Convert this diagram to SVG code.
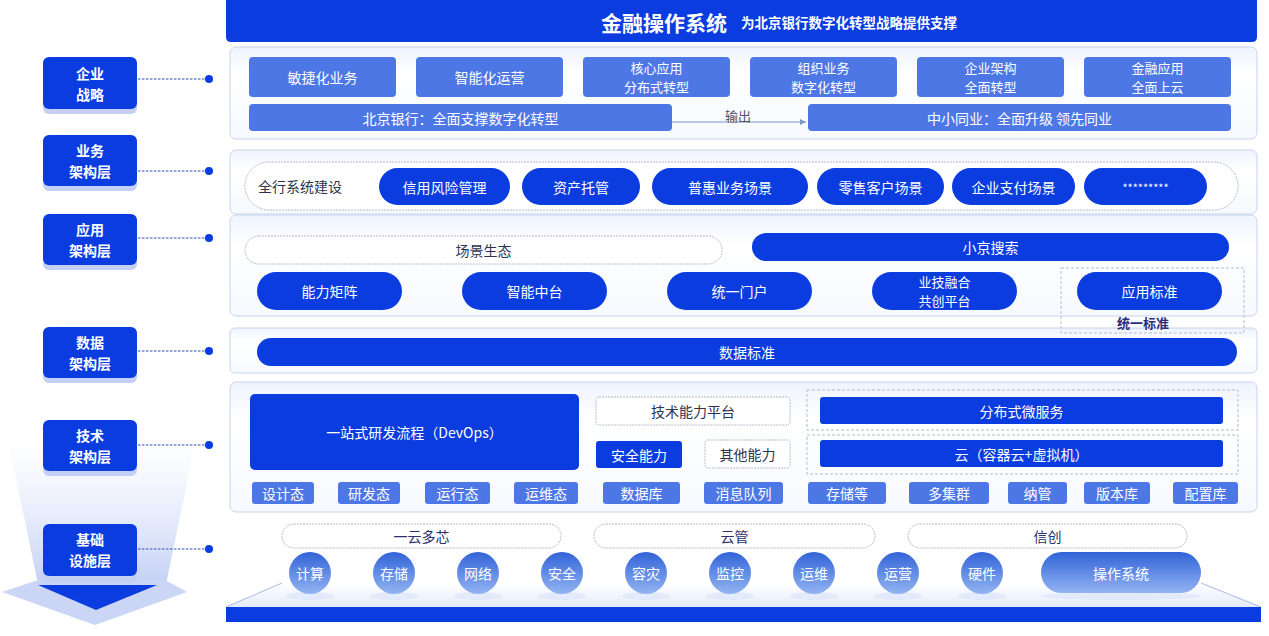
<svg xmlns="http://www.w3.org/2000/svg" width="1269" height="636" viewBox="0 0 1269 636">
<defs>
<style>
text{font-family:'Noto Sans CJK SC','Noto Sans',sans-serif;text-anchor:middle;dominant-baseline:central}
.w{fill:#fff;font-size:14px}
.w2{fill:#fff;font-size:13px}
.d{fill:#2e3350;font-size:14px}
.n{fill:#2b2f6e;font-size:14px}
.side{fill:#fff;font-size:14px;font-weight:700}
.db{fill:#0a3ce0}
.mb{fill:#4e77e6}
.panel{fill:url(#pg);stroke:#c7d5ec;stroke-width:1}
.ol{fill:#fff;stroke:#b3bccb;stroke-width:1;stroke-dasharray:2 1}
.dash{fill:none;stroke:#b5bcc8;stroke-width:1;stroke-dasharray:3 2}
.conn{stroke:#2c4fb5;stroke-width:1.2;stroke-dasharray:2.5 1.5;fill:none}
.dot{fill:#0a3ce0}
.sh{fill:#c3cff3}
.circ{fill:url(#cg)}
.glow{fill:#dbe5fa;opacity:.7}
</style>
<linearGradient id="pg" x1="0" y1="0" x2="0" y2="1">
<stop offset="0" stop-color="#eef3fd"/>
<stop offset="0.3" stop-color="#ffffff"/>
<stop offset="1" stop-color="#f6f9fe"/>
</linearGradient>
<linearGradient id="cg" x1="0" y1="0" x2="0" y2="1">
<stop offset="0" stop-color="#3163d8"/>
<stop offset="1" stop-color="#93b4f2"/>
</linearGradient>
<linearGradient id="fade" x1="0" y1="0" x2="0" y2="1">
<stop offset="0" stop-color="#dfe6fa" stop-opacity="0"/>
<stop offset="1" stop-color="#c4d1f5"/>
</linearGradient>
<linearGradient id="plat" x1="0" y1="0" x2="0" y2="1">
<stop offset="0" stop-color="#ffffff"/>
<stop offset="1" stop-color="#e3ebfb"/>
</linearGradient>
<marker id="arr" markerWidth="8" markerHeight="8" refX="6" refY="3" orient="auto" markerUnits="userSpaceOnUse">
<path d="M0,0 L6,3 L0,6 Z" fill="#7d98c6"/>
</marker>
</defs>

<rect width="1269" height="636" fill="#fff"/>

<g id="left-deco">
<polygon points="8,440 196,440 166,584 38,584" fill="url(#fade)"/>
<polygon points="38,580 2,592 95,625 187,592 165,580" fill="#cbd6f6"/>
<polygon points="38,585 157,585 96,610" fill="#0a3ce0"/>
</g>

<g id="side-qiye">
<rect class="sh" x="43" y="61" width="94" height="53" rx="6"/>
<rect class="db" x="43" y="57" width="94" height="52" rx="6"/>
<text class="side" x="90" y="73">企业</text>
<text class="side" x="90" y="94">战略</text>
</g>
<g id="side-yewu">
<rect class="sh" x="43" y="139" width="94" height="52" rx="6"/>
<rect class="db" x="43" y="135" width="94" height="51" rx="6"/>
<text class="side" x="90" y="150">业务</text>
<text class="side" x="90" y="171">架构层</text>
</g>
<g id="side-yingyong">
<rect class="sh" x="43" y="218" width="94" height="52" rx="6"/>
<rect class="db" x="43" y="214" width="94" height="51" rx="6"/>
<text class="side" x="90" y="229">应用</text>
<text class="side" x="90" y="250">架构层</text>
</g>
<g id="side-shuju">
<rect class="sh" x="43" y="331" width="94" height="52" rx="6"/>
<rect class="db" x="43" y="327" width="94" height="51" rx="6"/>
<text class="side" x="90" y="342">数据</text>
<text class="side" x="90" y="363">架构层</text>
</g>
<g id="side-jishu">
<rect class="sh" x="43" y="424" width="94" height="52" rx="6"/>
<rect class="db" x="43" y="420" width="94" height="51" rx="6"/>
<text class="side" x="90" y="435">技术</text>
<text class="side" x="90" y="456">架构层</text>
</g>
<g id="side-jichu">
<rect class="sh" x="43" y="528" width="94" height="55" rx="6"/>
<rect class="db" x="43" y="524" width="94" height="52" rx="6"/>
<text class="side" x="90" y="539">基础</text>
<text class="side" x="90" y="560">设施层</text>
</g>

<g id="header">
<path d="M226,0 H1257 V37 Q1257,42 1252,42 H231 Q226,42 226,37 Z" fill="#0a3ce0"/>
<text x="601" y="22" style="text-anchor:start;fill:#fff;font-size:21px;font-weight:700">金融操作系统</text>
<text x="741" y="22" style="text-anchor:start;fill:#fff;font-size:13.5px;font-weight:700">为北京银行数字化转型战略提供支撑</text>
</g>

<g id="layer-strategy">
<rect class="panel" x="230" y="47" width="1027" height="92" rx="6"/>
<g id="s1"><rect class="mb" x="249" y="57" width="147" height="40" rx="4"/><text class="w" x="322.5" y="77">敏捷化业务</text></g>
<g id="s2"><rect class="mb" x="416" y="57" width="147" height="40" rx="4"/><text class="w" x="489.5" y="77">智能化运营</text></g>
<g id="s3"><rect class="mb" x="583" y="57" width="147" height="40" rx="4"/><text class="w2" x="656.5" y="67.5">核心应用</text><text class="w2" x="656.5" y="86.5">分布式转型</text></g>
<g id="s4"><rect class="mb" x="750" y="57" width="147" height="40" rx="4"/><text class="w2" x="823.5" y="67.5">组织业务</text><text class="w2" x="823.5" y="86.5">数字化转型</text></g>
<g id="s5"><rect class="mb" x="917" y="57" width="147" height="40" rx="4"/><text class="w2" x="990.5" y="67.5">企业架构</text><text class="w2" x="990.5" y="86.5">全面转型</text></g>
<g id="s6"><rect class="mb" x="1084" y="57" width="147" height="40" rx="4"/><text class="w2" x="1157.5" y="67.5">金融应用</text><text class="w2" x="1157.5" y="86.5">全面上云</text></g>
<g id="bob"><rect class="mb" x="249" y="104" width="423" height="27" rx="4"/><text class="w" x="460.5" y="117.5">北京银行：全面支撑数字化转型</text></g>
<g id="peers"><rect class="mb" x="808" y="104" width="423" height="27" rx="4"/><text class="w" x="1019.5" y="117.5">中小同业：全面升级 领先同业</text></g>
</g>

<g id="layer-business">
<rect class="panel" x="230" y="150" width="1027" height="64" rx="6"/>
<rect class="ol" x="245" y="162" width="993" height="48" rx="24"/>
<text class="d" x="300" y="186">全行系统建设</text>
<g id="b1"><rect class="db" x="379" y="168" width="131" height="37" rx="18.5"/><text class="w" x="444.5" y="186.5">信用风险管理</text></g>
<g id="b2"><rect class="db" x="522" y="168" width="118" height="37" rx="18.5"/><text class="w" x="581" y="186.5">资产托管</text></g>
<g id="b3"><rect class="db" x="652" y="168" width="156" height="37" rx="18.5"/><text class="w" x="730" y="186.5">普惠业务场景</text></g>
<g id="b4"><rect class="db" x="817" y="168" width="127" height="37" rx="18.5"/><text class="w" x="880.5" y="186.5">零售客户场景</text></g>
<g id="b5"><rect class="db" x="952" y="168" width="123" height="37" rx="18.5"/><text class="w" x="1013.5" y="186.5">企业支付场景</text></g>
<g id="b6"><rect class="db" x="1084" y="168" width="123" height="37" rx="18.5"/><text class="w" x="1145.5" y="187" style="font-size:11px">*********</text></g>
</g>

<g id="layer-app">
<rect class="panel" x="230" y="215" width="1027" height="101" rx="6"/>
<g id="a-scene"><rect class="ol" x="245" y="236" width="477" height="28" rx="14"/><text class="d" x="483.5" y="250">场景生态</text></g>
<g id="a-search"><rect class="db" x="752" y="233" width="477" height="28" rx="14"/><text class="w" x="990.5" y="247">小京搜索</text></g>
<g id="a1"><rect class="db" x="257" y="272" width="145" height="38" rx="19"/><text class="w" x="329.5" y="291">能力矩阵</text></g>
<g id="a2"><rect class="db" x="462" y="272" width="145" height="38" rx="19"/><text class="w" x="534.5" y="291">智能中台</text></g>
<g id="a3"><rect class="db" x="667" y="272" width="145" height="38" rx="19"/><text class="w" x="739.5" y="291">统一门户</text></g>
<g id="a4"><rect class="db" x="872" y="272" width="145" height="38" rx="19"/><text class="w2" x="944.5" y="281.5">业技融合</text><text class="w2" x="944.5" y="300.5">共创平台</text></g>
<g id="a5"><rect class="db" x="1077" y="272" width="145" height="38" rx="19"/><text class="w" x="1149.5" y="291">应用标准</text></g>
</g>

<g id="layer-data">
<rect class="panel" x="230" y="328" width="1027" height="45" rx="5"/>
<g id="d1"><rect class="db" x="257" y="338" width="980" height="28" rx="14"/><text class="w" x="747" y="352">数据标准</text></g>
</g>

<g id="unified-std">
<rect class="dash" x="1061" y="268" width="183" height="65"/>
<text x="1143" y="322" style="fill:#2b2f7a;font-size:13px;font-weight:700">统一标准</text>
</g>

<g id="layer-tech">
<rect class="panel" x="230" y="382" width="1027" height="130" rx="6"/>
<g id="devops"><rect class="db" x="250" y="394" width="329" height="76" rx="5"/><text class="w" x="414.5" y="432">一站式研发流程（DevOps）</text></g>
<g id="t-platform"><rect class="ol" x="596" y="397" width="194" height="28" rx="3"/><text class="d" x="693" y="411">技术能力平台</text></g>
<g id="t-sec"><rect class="db" x="596" y="441" width="86" height="27" rx="3"/><text class="w" x="639" y="454.5">安全能力</text></g>
<g id="t-other"><rect class="ol" x="705" y="440" width="85" height="28" rx="3"/><text class="d" x="747.5" y="454">其他能力</text></g>
<g id="t-micro"><rect class="dash" x="807" y="390" width="431" height="40"/><rect class="db" x="820" y="397" width="403" height="27" rx="3"/><text class="w" x="1021.5" y="410.5">分布式微服务</text></g>
<g id="t-cloud"><rect class="dash" x="807" y="435" width="431" height="39"/><rect class="db" x="820" y="440" width="403" height="27" rx="3"/><text class="w" x="1021.5" y="453.5">云（容器云+虚拟机）</text></g>
<g id="t1"><rect class="mb" x="252" y="482" width="62" height="22" rx="3"/><text class="w" x="283" y="493">设计态</text></g>
<g id="t2"><rect class="mb" x="338" y="482" width="62" height="22" rx="3"/><text class="w" x="369" y="493">研发态</text></g>
<g id="t3"><rect class="mb" x="425" y="482" width="65" height="22" rx="3"/><text class="w" x="457.5" y="493">运行态</text></g>
<g id="t4"><rect class="mb" x="514" y="482" width="64" height="22" rx="3"/><text class="w" x="546" y="493">运维态</text></g>
<g id="t5"><rect class="mb" x="603" y="482" width="77" height="22" rx="3"/><text class="w" x="641.5" y="493">数据库</text></g>
<g id="t6"><rect class="mb" x="704" y="482" width="79" height="22" rx="3"/><text class="w" x="743.5" y="493">消息队列</text></g>
<g id="t7"><rect class="mb" x="808" y="482" width="78" height="22" rx="3"/><text class="w" x="847" y="493">存储等</text></g>
<g id="t8"><rect class="mb" x="909" y="482" width="80" height="22" rx="3"/><text class="w" x="949" y="493">多集群</text></g>
<g id="t9"><rect class="mb" x="1008" y="482" width="59" height="22" rx="3"/><text class="w" x="1037.5" y="493">纳管</text></g>
<g id="t10"><rect class="mb" x="1084" y="482" width="66" height="22" rx="3"/><text class="w" x="1117" y="493">版本库</text></g>
<g id="t11"><rect class="mb" x="1173" y="482" width="65" height="22" rx="3"/><text class="w" x="1205.5" y="493">配置库</text></g>
</g>

<g id="layer-infra">
<polygon points="226,607 282,583 1201,583 1261,607" fill="url(#plat)"/>
<line x1="226" y1="607" x2="282" y2="583" stroke="#a9b9e4" stroke-width="1"/>
<line x1="1201" y1="583" x2="1261" y2="607" stroke="#a9b9e4" stroke-width="1"/>
<rect x="226" y="607" width="1035" height="15" fill="#0a3ce0"/>
<g id="i-pill1"><rect class="ol" x="282" y="524" width="279" height="24" rx="12"/><text class="n" x="421.5" y="536">一云多芯</text></g>
<g id="i-pill2"><rect class="ol" x="594" y="524" width="281" height="24" rx="12"/><text class="n" x="734.5" y="536">云管</text></g>
<g id="i-pill3"><rect class="ol" x="908" y="524" width="279" height="24" rx="12"/><text class="n" x="1047.5" y="536">信创</text></g>
<g id="c1"><ellipse class="glow" cx="310" cy="596" rx="24" ry="4"/><circle class="circ" cx="310" cy="573" r="21"/><text class="w" x="310" y="573">计算</text></g>
<g id="c2"><ellipse class="glow" cx="394" cy="596" rx="24" ry="4"/><circle class="circ" cx="394" cy="573" r="21"/><text class="w" x="394" y="573">存储</text></g>
<g id="c3"><ellipse class="glow" cx="478" cy="596" rx="24" ry="4"/><circle class="circ" cx="478" cy="573" r="21"/><text class="w" x="478" y="573">网络</text></g>
<g id="c4"><ellipse class="glow" cx="562" cy="596" rx="24" ry="4"/><circle class="circ" cx="562" cy="573" r="21"/><text class="w" x="562" y="573">安全</text></g>
<g id="c5"><ellipse class="glow" cx="646" cy="596" rx="24" ry="4"/><circle class="circ" cx="646" cy="573" r="21"/><text class="w" x="646" y="573">容灾</text></g>
<g id="c6"><ellipse class="glow" cx="730" cy="596" rx="24" ry="4"/><circle class="circ" cx="730" cy="573" r="21"/><text class="w" x="730" y="573">监控</text></g>
<g id="c7"><ellipse class="glow" cx="814" cy="596" rx="24" ry="4"/><circle class="circ" cx="814" cy="573" r="21"/><text class="w" x="814" y="573">运维</text></g>
<g id="c8"><ellipse class="glow" cx="898" cy="596" rx="24" ry="4"/><circle class="circ" cx="898" cy="573" r="21"/><text class="w" x="898" y="573">运营</text></g>
<g id="c9"><ellipse class="glow" cx="982" cy="596" rx="24" ry="4"/><circle class="circ" cx="982" cy="573" r="21"/><text class="w" x="982" y="573">硬件</text></g>
<g id="c10"><ellipse class="glow" cx="1121" cy="596" rx="80" ry="4"/><rect class="circ" x="1041" y="552" width="160" height="41" rx="20.5"/><text class="w" x="1121" y="572.5">操作系统</text></g>
</g>

<g id="connectors">
<line class="conn" x1="138" y1="79" x2="206" y2="79"/><circle class="dot" cx="209" cy="79" r="4"/>
<line class="conn" x1="138" y1="171" x2="206" y2="171"/><circle class="dot" cx="209" cy="171" r="4"/>
<line class="conn" x1="138" y1="238" x2="206" y2="238"/><circle class="dot" cx="209" cy="238" r="4"/>
<line class="conn" x1="138" y1="351" x2="206" y2="351"/><circle class="dot" cx="209" cy="351" r="4"/>
<line class="conn" x1="138" y1="445" x2="206" y2="445"/><circle class="dot" cx="209" cy="445" r="4"/>
<line class="conn" x1="138" y1="549" x2="206" y2="549"/><circle class="dot" cx="209" cy="549" r="4"/>
<line x1="672" y1="122" x2="806" y2="122" stroke="#7d98c6" stroke-width="1" marker-end="url(#arr)"/>
<text x="738" y="115" style="fill:#4a5068;font-size:13px">输出</text>
</g>
</svg>
